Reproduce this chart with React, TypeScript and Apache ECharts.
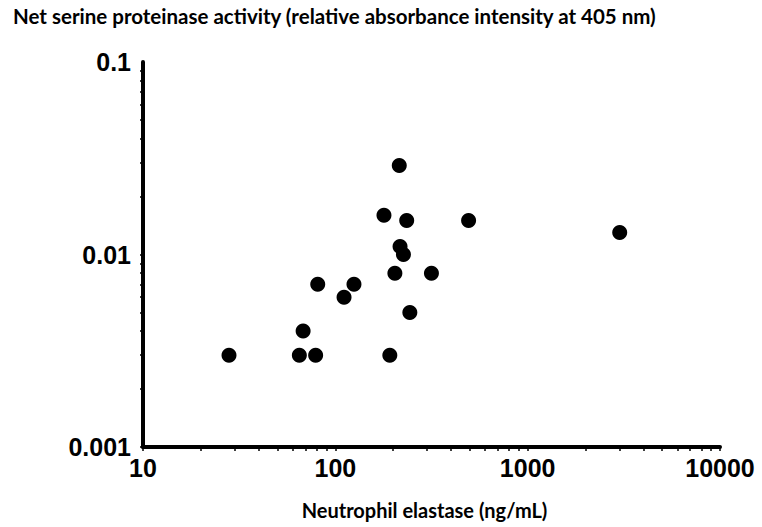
import React, { useEffect, useRef } from "react";
import * as echarts from "echarts";

const elastase = [28, 65, 68, 79, 81, 111, 125, 179, 192, 204, 215, 217, 226, 235, 244, 316, 493, 3010];
const activity = [0.003, 0.003, 0.004, 0.003, 0.007, 0.006, 0.007, 0.016, 0.003, 0.008, 0.029, 0.011, 0.010, 0.015, 0.005, 0.008, 0.015, 0.013];

const xTickValues = [10, 20, 30, 40, 50, 60, 70, 80, 90, 100, 200, 300, 400, 500, 600, 700, 800, 900, 1000, 2000, 3000, 4000, 5000, 6000, 7000, 8000, 9000, 10000];
const yTickValues = [0.001, 0.002, 0.003, 0.004, 0.005, 0.006, 0.007, 0.008, 0.009, 0.01, 0.02, 0.03, 0.04, 0.05, 0.06, 0.07, 0.08, 0.09, 0.1];
const xLabels = ["10", "100", "1000", "10000"];
const yLabels = ["0.001", "0.01", "0.1"];

const titleText = "Net serine proteinase activity (relative absorbance intensity at 405 nm)";
const xName = "Neutrophil elastase (ng/mL)";

export default function App() {
  const ref = useRef<HTMLDivElement>(null);
  useEffect(() => {
    if (!ref.current) return;
    const chart = echarts.init(ref.current, null, { renderer: "svg" });
    const points = elastase.map((x, i) => [x, activity[i]]);
    const labelStyle = {
      color: "#000",
      fontFamily: "Liberation Sans, Arial, sans-serif",
      fontWeight: "bold" as const,
      fontSize: 25,
    };
    const pick = (labels: string[], v: number) => {
      const idx = Math.round(Math.log10(v)) - Math.round(Math.log10(Number(labels[0])));
      return labels[idx] ?? String(v);
    };
    chart.setOption({
      animation: false,
      backgroundColor: "#fff",
      title: {
        text: titleText,
        left: 8,
        top: 0,
        textStyle: {
          color: "#000",
          fontFamily: "Lato, sans-serif",
          fontWeight: "bold",
          fontSize: 20.5,
        },
      },
      grid: {
        left: 143,
        right: 42,
        top: 62,
        bottom: 80,
        containLabel: false,
        outerBoundsMode: "none",
      },
      xAxis: {
        type: "log",
        logBase: 10,
        min: 10,
        max: 10000,
        name: xName,
        nameLocation: "middle",
        nameGap: 53,
        nameTextStyle: {
          color: "#000",
          fontFamily: "Lato, sans-serif",
          fontWeight: "bold",
          fontSize: 20,
          padding: [0, 14, 0, 0],
        },
        axisLine: { show: true, lineStyle: { color: "#000", width: 4 }, onZero: false },
        axisTick: { show: true, length: 4, customValues: xTickValues, lineStyle: { color: "#000", width: 1.5 } },
        axisLabel: { ...labelStyle, margin: 8, formatter: (v: number) => pick(xLabels, v) },
        splitLine: { show: false },
      },
      yAxis: {
        type: "log",
        logBase: 10,
        min: 0.001,
        max: 0.1,
        axisLine: { show: true, lineStyle: { color: "#000", width: 4 }, onZero: false },
        axisTick: { show: true, length: 3, customValues: yTickValues, lineStyle: { color: "#000", width: 1.5 } },
        axisLabel: {
          ...labelStyle,
          margin: 12,
          formatter: (v: number) => pick(yLabels, v),
        },
        splitLine: { show: false },
      },
      series: [
        {
          type: "scatter",
          data: points,
          symbol: "circle",
          symbolSize: 15,
          itemStyle: { color: "#000", opacity: 1 },
          clip: false,
        },
      ],
    });
    return () => chart.dispose();
  }, []);
  return (
    <div
      ref={ref}
      style={{ position: "fixed", left: 0, top: 0, width: 762, height: 527, background: "#fff" }}
    />
  );
}
